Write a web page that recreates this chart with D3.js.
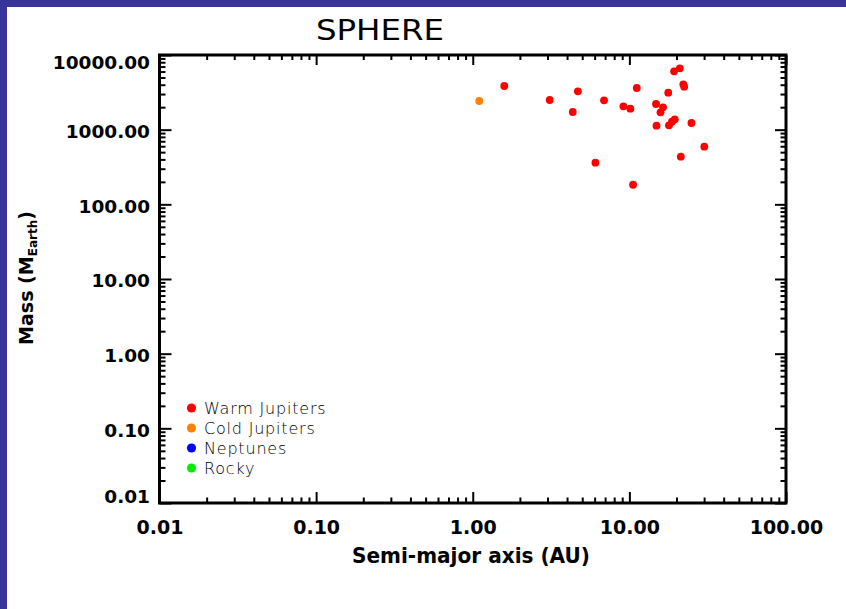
<!DOCTYPE html>
<html>
<head>
<meta charset="utf-8">
<script src="https://cdn.jsdelivr.net/npm/d3@7/dist/d3.min.js"></script>
<style>
  html, body { margin: 0; padding: 0; background: #fff; }
  svg { display: block; }
</style>
</head>
<body>
<svg id="chart" width="846" height="609"></svg>
<script>
// ---------- data ----------
const warmA = [1.59, 3.10, 4.69, 4.35, 6.89, 6.07, 9.16, 10.15, 11.15, 10.56, 14.8, 16.4, 15.8, 17.7, 14.9, 17.9, 18.7, 19.5, 19.3, 21.0, 22.1, 22.4, 24.9, 21.3, 30.1];
const warmM = [3845, 2497, 3266, 1724, 2474, 361, 2056, 1909, 3614, 183, 2207, 1993, 1709, 3128, 1130, 1145, 1279, 1377, 6050, 6637, 4052, 3760, 1228, 435, 592];
const coldA = [1.10];
const coldM = [2420];
const neptunesA = [];
const neptunesM = [];
const rockyA = [];
const rockyM = [];

const legendNames = ["Warm Jupiters", "Cold Jupiters", "Neptunes", "Rocky"];
const legendColors = ["#ff0000", "#ff8000", "#0000ff", "#00ee00"];

const xTicks = [0.01, 0.1, 1, 10, 100];
const xTickLabels = ["0.01", "0.10", "1.00", "10.00", "100.00"];
const yTicks = [0.01, 0.1, 1, 10, 100, 1000, 10000];
const yTickLabels = ["0.01", "0.10", "1.00", "10.00", "100.00", "1000.00", "10000.00"];

const titleText = "SPHERE";
const xTitle = "Semi-major axis (AU)";

// ---------- layout ----------
const svg = d3.select("#chart");
const L = 159.5, R = 786, T = 55, B = 503;

svg.append("rect").attr("x", 0).attr("y", 0).attr("width", 846).attr("height", 609).attr("fill", "#fff");
svg.append("rect").attr("x", 0).attr("y", 0).attr("width", 846).attr("height", 7).attr("fill", "#38349a");
svg.append("rect").attr("x", 0).attr("y", 0).attr("width", 7).attr("height", 609).attr("fill", "#38349a");

const x = d3.scaleLog().domain([0.01, 100]).range([L, R]);
const y = d3.scaleLog().domain([0.01, 10000]).range([B, T]);

function minors(lo, hi) {
  const out = [];
  for (let e = Math.log10(lo); e < Math.log10(hi); e++) {
    for (let k = 2; k <= 9; k++) out.push(k * Math.pow(10, e));
  }
  return out;
}
const xMinor = minors(0.01, 100);
const yMinor = minors(0.01, 10000);

const tickFont = "'DejaVu Sans', sans-serif";

function styleAxis(g, sw) {
  g.select(".domain").remove();
  g.selectAll(".tick line").attr("stroke", "#000").attr("stroke-width", sw);
}

// bottom major
const gxB = svg.append("g").attr("transform", `translate(0,${B})`)
  .call(d3.axisBottom(x).tickValues(xTicks).tickSize(-11).tickPadding(18)
    .tickFormat((d, i) => xTickLabels[i]));
styleAxis(gxB, 2);
gxB.selectAll("text").attr("font-family", tickFont).attr("font-weight", "bold")
  .attr("font-size", 19).attr("fill", "#000");
// bottom minor
const gxBm = svg.append("g").attr("transform", `translate(0,${B})`)
  .call(d3.axisBottom(x).tickValues(xMinor).tickSize(-5.5).tickFormat(""));
styleAxis(gxBm, 2);
// top major / minor
const gxT = svg.append("g").attr("transform", `translate(0,${T})`)
  .call(d3.axisTop(x).tickValues(xTicks).tickSize(-10).tickFormat(""));
styleAxis(gxT, 2);
const gxTm = svg.append("g").attr("transform", `translate(0,${T})`)
  .call(d3.axisTop(x).tickValues(xMinor).tickSize(-5).tickFormat(""));
styleAxis(gxTm, 2);

// left major
const gyL = svg.append("g").attr("transform", `translate(${L},0)`)
  .call(d3.axisLeft(y).tickValues(yTicks).tickSize(-12).tickPadding(9.5)
    .tickFormat((d, i) => yTickLabels[i]));
styleAxis(gyL, 2);
gyL.selectAll("text").attr("font-family", tickFont).attr("font-weight", "bold")
  .attr("font-size", 18.5).attr("fill", "#000")
  .attr("dy", d => d === 10000 ? "0.75em" : (d === 0.01 ? "-0.05em" : "0.42em"));
const gyLm = svg.append("g").attr("transform", `translate(${L},0)`)
  .call(d3.axisLeft(y).tickValues(yMinor).tickSize(-6).tickFormat(""));
styleAxis(gyLm, 2);
// right
const gyR = svg.append("g").attr("transform", `translate(${R},0)`)
  .call(d3.axisRight(y).tickValues(yTicks).tickSize(-11).tickFormat(""));
styleAxis(gyR, 2);
const gyRm = svg.append("g").attr("transform", `translate(${R},0)`)
  .call(d3.axisRight(y).tickValues(yMinor).tickSize(-5.5).tickFormat(""));
styleAxis(gyRm, 2);

// frame
svg.append("rect").attr("x", L).attr("y", T).attr("width", R - L).attr("height", B - T)
  .attr("fill", "none").attr("stroke", "#000").attr("stroke-width", 3);

// ---------- points ----------
function drawSeries(aArr, mArr, color) {
  svg.append("g").selectAll("circle").data(aArr.map((a, i) => [a, mArr[i]])).join("circle")
    .attr("cx", d => x(d[0])).attr("cy", d => y(d[1])).attr("r", 3.9).attr("fill", color);
}
drawSeries(warmA, warmM, legendColors[0]);
drawSeries(coldA, coldM, legendColors[1]);
drawSeries(neptunesA, neptunesM, legendColors[2]);
drawSeries(rockyA, rockyM, legendColors[3]);

// ---------- legend ----------
const lg = svg.append("g");
legendNames.forEach((name, i) => {
  const cy = 408 + i * 20;
  lg.append("circle").attr("cx", 191.5).attr("cy", cy).attr("r", 4.6).attr("fill", legendColors[i]);
  lg.append("text").attr("x", 204).attr("y", cy + 5.5)
    .attr("font-family", "'DejaVu Sans', sans-serif").attr("font-weight", 200)
    .attr("font-size", 16).attr("letter-spacing", 0.8).attr("fill", "#000").text(name);
});

// ---------- titles ----------
svg.append("text").attr("x", 380).attr("y", 40).attr("text-anchor", "middle")
  .attr("font-family", "'DejaVu Sans', sans-serif").attr("font-size", 28)
  .attr("textLength", 128).attr("lengthAdjust", "spacingAndGlyphs")
  .attr("fill", "#000").text(titleText);

svg.append("text").attr("x", 471).attr("y", 563).attr("text-anchor", "middle")
  .attr("font-family", "'DejaVu Sans', sans-serif").attr("font-weight", "bold").attr("font-size", 21)
  .attr("textLength", 238).attr("lengthAdjust", "spacingAndGlyphs")
  .attr("fill", "#000").text(xTitle);

const yt = svg.append("text").attr("transform", "translate(33,278) rotate(-90)")
  .attr("text-anchor", "middle")
  .attr("font-family", "'DejaVu Sans', sans-serif").attr("font-weight", "bold").attr("font-size", 19)
  .attr("fill", "#000");
yt.append("tspan").text("Mass (M");
yt.append("tspan").attr("font-size", 12).attr("dy", 4).text("Earth");
yt.append("tspan").attr("dy", -4).text(")");
</script>
</body>
</html>
